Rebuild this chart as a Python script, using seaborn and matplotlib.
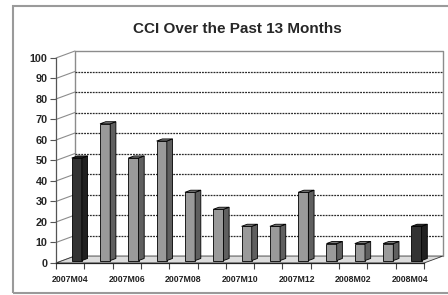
import numpy as np
import matplotlib
matplotlib.use('Agg')
import matplotlib.pyplot as plt
from matplotlib.patches import Rectangle, Polygon
import seaborn as sns

# data
months = ['2007M04', '2007M05', '2007M06', '2007M07', '2007M08', '2007M09', '2007M10',
          '2007M11', '2007M12', '2008M01', '2008M02', '2008M03', '2008M04']
cci = [50.0, 66.7, 50.0, 58.3, 33.3, 25.0, 16.7, 16.7, 33.3, 8.3, 8.3, 8.3, 16.7]
highlight = ['2007M04', '2008M04']
y_ticks = list(range(0, 101, 10))

sns.set_style('white')
plt.rcParams['font.family'] = ['Liberation Sans', 'DejaVu Sans']

# fake 3d: depth offset of the back wall in data units
DX, DY = 0.67, 3.4
BAR_FRONT, BAR_DEPTH, BAR_W = 0.35, 0.30, 0.36
n = len(months)

fig = plt.figure(figsize=(4.48, 2.95), dpi=100)
ax = fig.add_axes([56 / 448, 32 / 295, 387 / 448, 212 / 295])

palette = {m: ('#333333' if m in highlight else '#9a9a9a') for m in months}
sns.barplot(x=months, y=cci, hue=months, palette=palette, legend=False, ax=ax,
            width=BAR_W, edgecolor='black', linewidth=0.6, saturation=1, zorder=5)

ax.set_xlim(-0.5, n - 0.5 + DX)
ax.set_ylim(0, 100 + DY)

wall = '#8c8c8c'
# floor
ax.add_patch(Polygon([(-0.5, 0), (n - 0.5, 0), (n - 0.5 + DX, DY), (-0.5 + DX, DY)],
                     closed=True, facecolor='#dcdcdc', edgecolor='#333333', lw=0.6, zorder=2))
# back wall edges
ax.plot([-0.5 + DX, -0.5 + DX, n - 0.5 + DX, n - 0.5 + DX], [DY, 100 + DY, 100 + DY, DY],
        color=wall, lw=1.0, zorder=1, clip_on=False)
# side wall lines + dashed gridlines on back wall
for v in y_ticks:
    ax.plot([-0.5, -0.5 + DX], [v, v + DY], color=wall, lw=0.8, zorder=1, clip_on=False)
    if 0 < v < 100:
        ax.plot([-0.5 + DX, n - 0.5 + DX], [v + DY, v + DY], color='#2a2a2a', lw=0.9,
                linestyle=(0, (1.5, 0.8)), zorder=1)

# move seaborn's bars back into depth and add the side and top faces
bars = sorted([p for p in ax.patches if isinstance(p, Rectangle)], key=lambda p: p.get_x())
ddx, ddy = BAR_DEPTH * DX, BAR_DEPTH * DY
for p in bars:
    p.set_x(p.get_x() + BAR_FRONT * DX)
    p.set_y(BAR_FRONT * DY)
    x0, y0, w, h = p.get_x(), p.get_y(), p.get_width(), p.get_height()
    x1 = x0 + w
    fc = np.array(p.get_facecolor()[:3])
    side = Polygon([(x1, y0), (x1 + ddx, y0 + ddy), (x1 + ddx, y0 + h + ddy), (x1, y0 + h)],
                   closed=True, facecolor=fc * 0.62, edgecolor='black', lw=0.6, zorder=5)
    top = Polygon([(x0, y0 + h), (x0 + ddx, y0 + h + ddy), (x1 + ddx, y0 + h + ddy), (x1, y0 + h)],
                  closed=True, facecolor=fc * 0.8, edgecolor='black', lw=0.6, zorder=5)
    ax.add_patch(side)
    ax.add_patch(top)

for s in ['top', 'right']:
    ax.spines[s].set_visible(False)
ax.spines['left'].set_bounds(0, 100)
ax.spines['left'].set_color('#555555')
ax.spines['left'].set_linewidth(0.9)
ax.spines['bottom'].set_bounds(-0.5, n - 0.5)
ax.spines['bottom'].set_color('#222222')
ax.spines['bottom'].set_linewidth(0.9)

ax.set_yticks(y_ticks)
ax.set_yticklabels([str(v) for v in y_ticks], fontsize=7.8, fontweight='bold')
ax.tick_params(axis='y', length=4, width=0.8, color='#555555', pad=2, left=True)

ax.set_xticks(np.arange(-0.5, n, 1.0))
ax.set_xticklabels([''] * (n + 1))
ax.set_xticks(np.arange(0, n, 2), minor=True)
ax.set_xticklabels(months[::2], minor=True, fontsize=6.3, fontweight='bold', color='#222222')
ax.tick_params(axis='x', which='major', length=4, width=0.8, color='#444444', bottom=True)
ax.tick_params(axis='x', which='minor', length=0, pad=8.5)
ax.set_xlabel('')
ax.set_ylabel('')

fig.text(237 / 448, 1 - 29 / 295, 'CCI Over the Past 13 Months', ha='center', va='center',
         fontsize=11, fontweight='bold')

fig.patches.append(Rectangle((13 / 448, 2 / 295), 0.99, 1 - 8 / 295, transform=fig.transFigure,
                             fill=False, edgecolor='#9a9a9a', lw=1.5, zorder=0))

fig.savefig('out.png', dpi=100)
